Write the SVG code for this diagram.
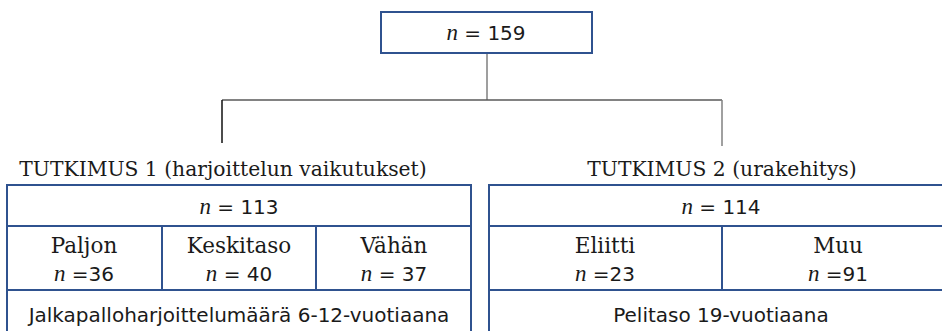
<svg xmlns="http://www.w3.org/2000/svg" width="942" height="331" viewBox="0 0 942 331">
<style>
.box{fill:#fff;stroke:#2f528f;stroke-width:2}
.sl{font-family:"DejaVu Serif","Liberation Serif",serif;font-size:21.5px;fill:#1a1a1a;text-anchor:middle}
.tt{font-size:20.3px}
.sn{font-family:"DejaVu Sans","Noto Sans",sans-serif;font-size:20px;fill:#1a1a1a;text-anchor:middle}
.it{font-family:"Liberation Serif",serif;font-style:italic;font-size:23px}
.c{fill:none;stroke-width:1.5}
</style>
<rect width="942" height="331" fill="#fff"/>
<g id="connectors">
<line class="c" x1="487" y1="53" x2="487" y2="100" stroke="#7f7f7f" stroke-width="2"/>
<line class="c" x1="222" y1="100" x2="722" y2="100" stroke="#595959"/>
<line class="c" x1="222" y1="100" x2="222" y2="143" stroke="#111"/>
<line class="c" x1="722" y1="100" x2="722" y2="146" stroke="#808080" stroke-width="2"/>
</g>
<g id="root">
<rect class="box" x="381" y="12" width="211" height="41"/>
<text class="sn" x="486" y="40"><tspan class="it">n</tspan> = 159</text>
</g>
<g id="study1">
<text class="sl tt" x="223" y="176">TUTKIMUS 1 (harjoittelun vaikutukset)</text>
<rect class="box" x="7" y="185" width="464" height="41"/>
<text class="sn" x="239" y="214"><tspan class="it">n</tspan> = 113</text>
</g>
<g id="paljon">
<rect class="box" x="7" y="226" width="155" height="64"/>
<text class="sl" x="84" y="253">Paljon</text>
<text class="sn" x="84" y="281"><tspan class="it">n</tspan> =36</text>
</g>
<g id="keskitaso">
<rect class="box" x="162" y="226" width="154" height="64"/>
<text class="sl" x="239" y="253">Keskitaso</text>
<text class="sn" x="239" y="281"><tspan class="it">n</tspan> = 40</text>
</g>
<g id="vahan">
<rect class="box" x="316" y="226" width="155" height="64"/>
<text class="sl" x="394" y="253">Vähän</text>
<text class="sn" x="394" y="281"><tspan class="it">n</tspan> = 37</text>
</g>
<g id="measure1">
<rect class="box" x="7" y="290" width="464" height="60"/>
<text class="sn" x="239" y="322">Jalkapalloharjoittelumäärä 6-12-vuotiaana</text>
</g>
<g id="study2">
<text class="sl tt" x="722" y="176">TUTKIMUS 2 (urakehitys)</text>
<rect class="box" x="489" y="185" width="464" height="41"/>
<text class="sn" x="721" y="214"><tspan class="it">n</tspan> = 114</text>
</g>
<g id="eliitti">
<rect class="box" x="489" y="226" width="233" height="64"/>
<text class="sl" x="605" y="253">Eliitti</text>
<text class="sn" x="605" y="281"><tspan class="it">n</tspan> =23</text>
</g>
<g id="muu">
<rect class="box" x="722" y="226" width="231" height="64"/>
<text class="sl" x="838" y="253">Muu</text>
<text class="sn" x="838" y="281"><tspan class="it">n</tspan> =91</text>
</g>
<g id="measure2">
<rect class="box" x="489" y="290" width="464" height="60"/>
<text class="sn" x="721" y="322">Pelitaso 19-vuotiaana</text>
</g>
</svg>
